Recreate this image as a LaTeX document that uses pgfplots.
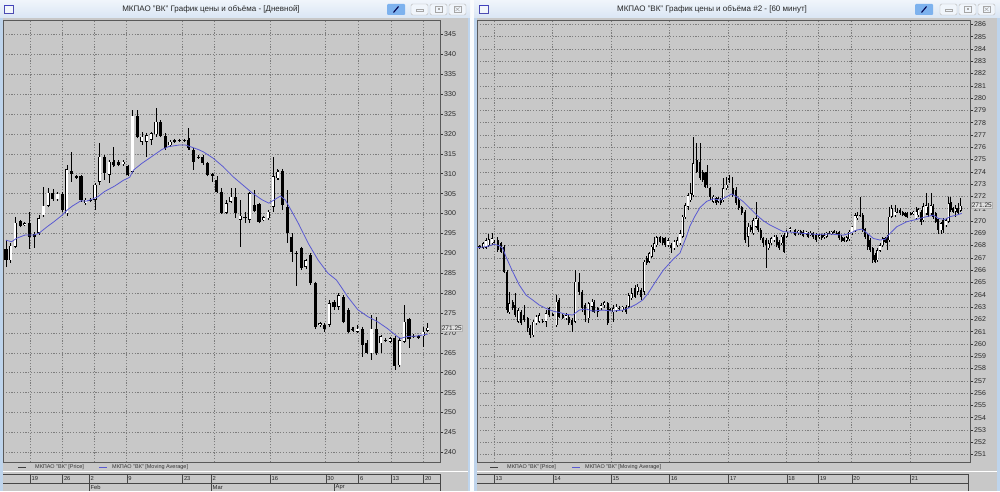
\documentclass[border=0pt]{standalone}
\usepackage{fontspec}
\setmainfont{Liberation Sans}
\usepackage{pgfplots}
\usepackage{pgfplotstable}
\pgfplotsset{compat=1.18}

\definecolor{panel}{RGB}{200,200,200}
\definecolor{gridc}{RGB}{125,125,125}
\definecolor{frameblue}{RGB}{190,212,236}
\definecolor{titletop}{RGB}{240,245,251}
\definecolor{titlebot}{RGB}{218,230,244}
\definecolor{maline}{RGB}{90,90,210}
\definecolor{btnblue}{RGB}{125,178,238}
\definecolor{ticktext}{RGB}{40,40,40}

\newcommand\titlef{\fontsize{8}{9.5}\selectfont}
\newcommand\tickf{\fontsize{7}{8}\selectfont}
\newcommand\legf{\fontsize{5.5}{6.5}\selectfont}
\newcommand\datef{\fontsize{5.8}{6.5}\selectfont}

\pgfplotsset{
  % vertical bar from y-err to y+err, one per row: colour, width, end mark, end mark size
  vbar/.style n args={4}{draw=none, mark=none,
    error bars/.cd, y dir=both, y explicit, error mark=#3,
    error mark options={draw=black, line width=0.5pt, mark size=#4, solid},
    error bar style={draw=#1, line width=#2, solid, line cap=butt}},
  chart/.style={
    anchor=south west,
    axis background/.style={fill=panel},
    axis line style={draw=gray!70!black, line width=0.5pt},
    xmajorgrids, ymajorgrids,
    major grid style={draw=gridc, line width=0.5pt, dash pattern=on 1.2pt off 1.6pt},
    xticklabels={}, xtick style={draw=none},
    ytick pos=right, yticklabel pos=right, tick align=outside,
    ytick style={draw=gray!40!black, line width=0.5pt},
    major tick length=3pt,
    yticklabel style={font=\tickf, text=ticktext, inner sep=1pt},
    /pgf/number format/assume math mode=true,
    clip mode=individual,
  },
}

% daily candles: index, open, high, low, close
\pgfplotstableread{
x o h l c
0 291.1 293.3 286.6 288.3
1 288.3 292.5 287.5 291.9
2 291.7 299.2 291.3 297.7
3 298.0 298.2 296.7 296.9
4 297.2 297.7 296.9 297.5
5 297.7 300.5 291.0 294.2
6 294.8 295.4 291.3 294.2
7 295.2 299.6 294.6 298.8
8 299.6 306.6 299.2 301.9
9 301.9 306.3 301.7 305.2
10 305.2 306.1 303.4 303.6
11 303.6 305.5 303.4 304.9
12 304.9 305.2 300.5 300.9
13 300.0 312.2 299.4 311.1
14 310.7 315.5 308.0 309.9
15 309.1 309.6 308.8 309.3
16 309.3 309.4 303.0 303.4
17 302.6 303.8 302.4 303.4
18 303.3 303.8 302.9 303.5
19 303.4 307.6 300.9 307.2
20 308.0 317.6 307.2 314.3
21 314.3 314.7 308.4 310.1
22 309.7 313.4 307.6 313.0
23 313.0 316.8 311.8 312.2
24 313.0 313.2 312.0 312.2
25 312.4 313.3 312.2 313.0
26 311.9 312.2 309.3 309.7
27 310.5 326.0 310.1 324.5
28 324.5 326.0 319.1 319.3
29 318.0 320.6 317.2 319.3
30 318.0 320.1 314.3 319.7
31 318.5 320.6 317.2 320.1
32 319.9 326.4 319.3 323.1
33 323.1 323.5 319.3 319.5
34 319.5 320.1 316.0 316.4
35 317.2 318.5 316.8 318.0
36 318.2 318.5 318.0 318.4
37 318.3 318.5 318.0 318.4
38 318.4 318.6 318.1 318.3
39 318.5 321.4 316.0 316.4
40 316.0 316.4 310.9 313.0
41 314.2 314.5 313.9 314.1
42 314.3 314.5 312.2 312.6
43 312.6 313.0 309.3 309.7
44 309.8 310.0 308.0 309.7
45 308.4 309.3 305.1 305.5
46 305.5 306.3 300.0 300.2
47 300.2 303.4 300.0 302.6
48 303.0 306.3 302.6 304.2
49 304.2 306.3 298.8 300.0
50 298.4 303.4 291.7 299.4
51 299.2 300.5 297.5 298.8
52 298.4 305.5 297.5 305.1
53 302.1 305.9 300.5 300.7
54 302.3 302.6 297.7 297.9
55 298.4 299.2 298.2 299.0
56 298.8 300.7 298.5 300.5
57 301.7 314.3 300.5 309.3
58 308.8 311.3 308.4 310.5
59 310.8 311.1 300.9 302.1
60 301.7 305.9 292.7 295.0
61 294.2 295.0 287.9 290.2
62 290.1 290.4 281.8 289.9
63 291.3 291.7 285.8 286.2
64 286.6 288.3 286.0 288.2
65 289.6 290.0 282.3 282.5
66 282.5 282.9 271.1 271.6
67 271.9 272.6 271.6 272.4
68 272.0 272.4 270.1 270.9
69 272.0 278.3 271.6 277.4
70 277.8 278.3 275.8 276.6
71 276.6 279.9 275.8 279.5
72 279.1 279.5 272.6 272.8
73 275.8 276.2 270.1 270.3
74 271.1 271.4 270.4 270.7
75 270.3 272.0 269.9 271.1
76 271.1 271.6 264.0 267.0
77 267.4 268.2 264.9 265.0
78 264.9 274.5 263.2 271.1
79 271.1 274.1 264.5 264.9
80 267.4 269.5 264.9 269.2
81 268.2 268.6 267.6 268.3
82 267.8 268.9 267.4 268.6
83 268.6 269.1 260.7 261.7
84 261.9 268.6 261.5 268.2
85 267.8 277.0 267.4 272.8
86 273.4 273.7 266.1 268.4
87 269.3 269.5 268.9 269.2
88 269.1 269.3 268.6 268.9
89 269.1 271.6 266.5 270.3
90 270.5 272.4 270.1 271.25
}\dayTab

\pgfplotstableread{
x ma
0 293.3
1.2 292.9
2.3 293.8
4.1 294.6
5.9 294.6
7.0 295.0
8.8 296.7
10.2 297.9
12.0 299.6
13.1 300.9
14.2 301.9
16.0 303.2
17.1 303.1
18.2 303.5
19.6 304.2
21.0 305.5
23.2 306.9
25.0 308.3
26.4 309.1
27.2 310.9
29.0 312.6
31.1 314.3
33.3 316.1
34.7 316.8
36.9 317.2
38.3 317.2
39.8 316.6
41.2 316.0
42.1 315.5
44.2 313.9
46.3 311.8
48.4 309.3
50.5 307.2
52.6 305.1
54.7 303.4
56.1 302.6
57.2 303.4
58.6 304.4
59.6 303.4
61.0 300.5
62.4 297.5
64.5 292.5
66.6 288.3
68.7 285.0
70.5 283.3
71.5 281.6
72.9 279.1
75.1 275.8
77.2 274.1
79.3 272.8
81.4 271.1
83.5 269.1
84.2 268.6
85.6 269.1
87.7 269.2
90.0 269.7
}\dayMA

% hourly candles: position, open, high, low, close
\pgfplotstableread{
x o h l c
2.5 267.85 268.05 267.75 267.95
6.3 267.83 268.31 267.72 268.18
9.0 267.83 268.64 267.72 268.45
11.7 267.99 268.91 267.91 268.53
15.0 268.18 268.99 268.04 268.59
17.3 268.33 268.45 268.20 268.29
20.7 268.45 268.72 267.50 267.64
24.0 268.18 268.31 267.36 267.50
27.3 267.91 268.04 265.74 265.87
30.0 265.87 266.01 262.48 262.75
32.3 262.56 264.25 262.48 263.30
35.7 263.43 263.57 262.75 262.89
38.3 263.16 264.11 262.21 262.35
41.3 261.80 262.89 261.67 262.75
44.0 262.62 262.75 261.53 261.67
47.3 262.35 263.16 261.80 261.94
50.7 262.08 262.21 260.99 261.26
53.0 261.26 261.53 260.45 260.72
56.3 260.72 261.94 260.58 261.80
59.0 261.67 262.35 261.53 262.21
62.3 261.80 262.48 261.67 262.35
65.7 261.85 262.00 261.70 261.80
69.0 261.80 262.75 261.40 262.48
72.3 262.89 263.03 262.21 262.35
75.7 262.40 262.50 262.25 262.35
79.7 261.53 263.97 261.40 263.43
82.3 263.57 263.70 262.08 262.21
85.7 262.35 262.45 262.00 262.08
89.0 262.08 262.48 261.94 262.35
91.7 262.21 262.35 261.53 261.67
95.0 261.94 262.08 260.99 261.53
98.3 261.80 266.01 261.67 265.06
102.3 265.06 265.74 263.97 264.25
105.0 264.25 264.38 262.62 262.89
108.3 263.16 263.30 261.80 262.35
111.7 262.08 263.43 261.67 263.30
115.0 263.03 263.65 262.62 263.43
117.3 263.43 263.57 262.48 262.62
120.7 262.89 263.03 262.21 262.62
124.0 262.89 263.30 262.75 263.16
127.3 263.16 263.49 262.94 263.38
130.7 263.30 263.43 261.59 261.67
133.3 262.80 262.90 262.65 262.75
136.3 262.56 263.16 261.80 262.89
139.0 262.75 263.21 262.56 263.03
142.3 262.95 263.05 262.80 262.89
145.7 262.75 263.10 262.60 263.03
149.0 263.03 263.16 262.40 262.56
151.7 263.03 264.11 262.89 263.97
154.7 263.70 264.52 263.57 264.11
158.0 264.52 264.79 263.70 263.84
160.7 264.25 264.84 263.97 264.66
164.0 264.38 264.52 263.57 263.84
167.3 264.25 266.82 263.97 266.69
169.7 266.96 267.15 266.42 266.55
172.3 266.69 267.50 266.55 267.36
174.7 267.09 268.04 266.96 267.91
177.3 267.64 268.72 267.50 268.18
179.7 268.04 268.77 267.91 268.67
183.0 268.67 268.77 268.18 268.31
185.7 268.59 268.72 268.04 268.18
188.3 268.59 268.67 267.91 268.04
191.0 268.04 268.59 267.91 268.45
194.3 268.04 268.18 267.36 267.77
197.0 267.77 268.45 267.64 268.31
200.3 268.04 268.72 267.91 268.45
203.0 268.18 269.26 268.04 268.99
205.7 268.72 270.48 268.59 270.35
208.3 270.29 271.43 270.21 271.30
211.0 271.16 272.30 270.89 272.11
213.7 271.70 273.06 271.57 272.25
216.3 272.11 276.86 271.97 274.69
219.7 274.96 276.32 273.88 274.01
223.0 274.82 276.32 273.33 273.47
225.7 274.01 274.15 273.20 273.33
228.0 273.88 274.01 272.65 272.79
230.3 274.01 274.55 272.65 272.93
233.0 272.65 272.79 271.70 271.97
236.3 271.57 272.11 271.43 271.97
239.0 271.84 271.97 271.30 271.43
241.3 271.57 271.97 271.43 271.84
243.7 271.70 271.84 271.30 271.43
246.3 271.70 273.47 271.57 272.65
249.7 272.65 273.60 272.52 272.93
252.3 273.40 273.74 273.06 273.47
255.7 272.65 273.60 271.97 272.11
259.0 272.52 272.79 271.30 271.43
261.7 271.70 271.84 270.89 271.03
264.7 271.11 271.22 270.48 270.62
268.0 270.75 270.89 268.18 268.45
271.3 268.72 269.81 267.91 269.53
273.7 269.53 269.67 269.13 269.26
276.3 268.99 270.21 268.86 270.08
279.0 269.53 271.57 269.40 270.21
281.3 270.08 270.21 269.13 269.26
283.7 269.26 269.40 268.45 268.59
286.3 268.59 268.72 267.91 268.18
289.0 268.45 268.59 266.14 268.04
291.7 267.77 268.45 267.64 268.18
294.3 268.18 268.72 268.04 268.59
297.0 268.45 268.86 268.31 268.72
299.7 268.72 268.86 267.91 268.04
302.3 268.31 268.45 267.64 267.77
304.7 268.18 268.86 268.04 268.72
307.3 268.86 268.99 267.36 267.50
309.7 268.72 269.26 268.59 269.13
313.0 269.26 269.45 269.13 269.40
318.0 269.26 269.35 268.80 268.86
321.3 268.99 269.30 268.90 269.21
323.7 269.21 269.30 268.85 268.94
326.3 269.13 269.26 268.66 268.77
329.0 268.94 269.20 268.85 269.13
331.3 268.99 269.10 268.65 268.72
333.7 268.85 269.15 268.80 269.04
336.3 268.99 269.13 268.58 268.66
339.0 268.85 268.99 268.31 268.45
342.3 268.66 268.95 268.60 268.85
344.7 268.85 268.95 268.50 268.58
347.3 268.66 268.99 268.50 268.85
349.7 268.72 269.10 268.65 269.04
352.3 269.04 269.15 268.95 269.06
354.7 268.99 269.20 268.95 269.13
357.3 269.13 269.25 269.05 269.15
359.7 269.06 269.15 268.95 269.04
362.3 269.13 269.21 268.45 268.58
364.7 268.66 268.85 268.31 268.39
367.3 268.58 268.65 268.30 268.39
369.7 268.39 268.70 268.35 268.66
372.3 268.50 269.26 268.39 269.13
375.0 268.99 269.60 268.90 269.53
378.0 269.26 270.62 269.13 270.48
380.3 270.21 270.75 270.08 270.48
383.0 270.50 271.97 270.35 270.45
385.7 270.48 270.62 269.13 269.26
388.0 269.32 269.40 268.60 268.66
390.7 268.85 268.99 267.63 267.91
393.0 268.45 268.58 267.50 267.63
395.7 267.77 267.91 266.60 266.82
398.0 267.23 267.36 266.60 266.69
400.3 266.82 267.77 266.69 267.63
403.0 267.58 268.18 267.50 268.04
405.7 268.04 268.72 267.91 268.58
408.0 268.58 268.72 268.18 268.31
410.3 268.58 268.85 267.63 268.18
412.3 268.45 271.16 268.31 270.35
414.7 270.35 271.30 270.21 271.02
418.0 270.48 271.30 270.35 270.75
420.3 270.77 271.02 270.62 270.75
423.0 270.89 271.02 270.48 270.62
425.7 270.75 270.85 270.40 270.48
428.0 270.62 270.70 270.35 270.40
430.3 270.62 270.75 270.21 270.35
433.7 270.60 270.70 270.50 270.62
436.3 270.62 270.80 270.55 270.75
439.0 270.21 271.16 270.08 270.75
441.3 270.48 271.02 270.35 270.94
444.0 270.75 270.89 269.67 269.94
446.3 270.08 271.43 269.94 271.21
449.0 270.62 272.30 270.48 271.30
451.3 271.16 271.43 270.35 270.48
454.0 270.62 272.25 270.48 271.30
456.3 271.21 271.38 270.20 270.35
458.7 270.62 270.75 269.80 269.94
461.3 270.13 270.21 268.94 269.26
464.0 269.26 269.94 268.94 269.80
466.3 270.08 270.21 268.99 269.26
469.0 269.67 270.21 269.53 270.08
471.7 269.94 271.97 269.80 271.43
473.7 271.57 271.97 270.75 270.89
476.3 271.02 271.10 270.70 270.75
478.7 270.75 271.30 270.35 271.02
481.3 271.02 271.43 270.48 270.62
483.7 270.83 271.84 270.75 271.25
}\hourTab

\pgfplotstableread{
x ma
0 267.83
9 267.91
17.3 268.10
22.3 267.99
25.7 267.77
29 267.09
35.7 265.87
42.3 264.79
49 263.97
55.7 263.57
62.3 263.16
69 262.89
75.7 262.67
82.3 262.56
89 262.40
95.7 262.35
102.3 262.75
109 262.84
115.7 262.67
125.7 262.75
135.7 262.67
145.7 262.75
152.3 262.94
159 263.21
165.7 263.57
171 264.10
178 265.00
186.3 266.00
196.3 266.90
203 267.40
209.7 268.80
213 269.60
218 270.40
223 271.10
229.7 271.60
236.3 271.80
243 271.70
249.7 271.97
254.7 272.20
259.7 271.97
266.3 271.57
273 271.03
279.7 270.48
286.3 270.02
293 269.67
299.7 269.40
306.3 269.13
313 269.10
326.3 268.99
339.7 268.91
353 268.94
366.3 268.85
373 269.00
379.7 269.26
384.7 269.34
389.7 269.04
396.3 268.58
403 268.45
408 268.50
413 268.99
419.7 269.53
429.7 269.94
439.7 270.13
446.3 270.29
456.3 270.48
461.3 270.21
468 270.13
473 270.35
479.7 270.48
484.7 270.62
}\hourMA

\begin{document}
\begin{tikzpicture}[x=1pt,y=1pt]
% window frames and panels
\fill[frameblue] (0,0) rectangle (1000,491);
\fill[white!92!frameblue] (470,0) rectangle (474,491);
\fill[panel] (3,0) rectangle (468,473);
\fill[panel] (477,0) rectangle (997,473);

% title bars
\shade[top color=titletop, bottom color=titlebot] (0,473) rectangle (470,491);
\shade[top color=titletop, bottom color=titlebot] (474,473) rectangle (1000,491);
\node[font=\titlef, text=black!85] at (211,482) {МКПАО "ВК" График цены и объёма - [Дневной]};
\node[font=\titlef, text=black!85] at (712,482) {МКПАО "ВК" График цены и объёма \#2 - [60 минут]};
\foreach \ix in {4,479}{
  \draw[blue!40!gray, fill=white!80!frameblue, line width=0.4pt] (\ix,478) rectangle (\ix+9,486);
  \fill[blue!50!gray] (\ix,484.5) rectangle (\ix+9,486);
}
\foreach \bx/\ax/\cx/\dx in {387/411/430/449, 915/940/959/978}{
  \fill[btnblue, rounded corners=1pt] (\bx,476) rectangle (\bx+18,487);
  \draw[blue!30!black, line width=1.1pt] (\bx+6.5,478.5) -- (\bx+11.5,484.5);
  \draw[gray!55, fill=titletop, rounded corners=1.5pt, line width=0.4pt] (\ax,476) rectangle (\ax+17,487);
  \draw[gray!55, fill=titletop, rounded corners=1.5pt, line width=0.4pt] (\cx,476) rectangle (\cx+17,487);
  \draw[gray!55, fill=titletop, rounded corners=1.5pt, line width=0.4pt] (\dx,476) rectangle (\dx+17,487);
  \draw[gray!70, line width=0.5pt] (\ax+5,479.5) rectangle (\ax+12,482);
  \draw[gray!70, line width=0.5pt] (\cx+5,478.5) rectangle (\cx+12,485);
  \fill[gray!70] (\cx+7.5,480.5) rectangle (\cx+9.5,483);
  \draw[gray!70, line width=0.5pt] (\dx+5,478.5) rectangle (\dx+12,485);
  \draw[gray!70, line width=0.5pt] (\dx+6.5,480) -- (\dx+10.5,483.5) (\dx+6.5,483.5) -- (\dx+10.5,480);
}

% daily chart
\begin{axis}[chart, at={(3pt,29pt)}, x=4.686pt, y=3.98pt,
  xmin=-0.64, xmax=92.62, ymin=237.56, ymax=348.62,
  xtick={5.12,12.01,18.84,25.76,37.62,44.45,56.34,68.22,75.18,82.16,89.05},
  ytick={240,245,...,345}]
% wicks
\addplot[vbar={black}{0.6pt}{none}{1pt}] table[x=x,
  y expr={(\thisrow{h}+\thisrow{l})/2}, y error expr={(\thisrow{h}-\thisrow{l})/2}] {\dayTab};
% bodies (black, with end caps)
\addplot[vbar={black}{3.1pt}{-}{1.55pt}]
  table[x=x, y expr={(\thisrow{o}+\thisrow{c})/2}, y error expr={abs(\thisrow{o}-\thisrow{c})/2}] {\dayTab};
% hollow inside of rising candles
\addplot[vbar={white}{2.1pt}{none}{1pt}] table[x=x, y expr={(\thisrow{o}+\thisrow{c})/2},
  y error expr={max((\thisrow{c}-\thisrow{o})/2-0.126,0)}] {\dayTab};
\addplot[maline, line width=0.8pt] table[x=x,y=ma] {\dayMA};
\coordinate (pL) at (axis cs:92.62,271.25);
\end{axis}

% hourly chart
\begin{axis}[chart, at={(477pt,29pt)}, x=1pt, y=12.29pt,
  xmin=0, xmax=493, ymin=250.39, ymax=286.35,
  xtick={17,75.7,134,192.3,251.3,309.7,341.3,374.7,433},
  ytick={251,252,...,286}]
\addplot[vbar={black}{0.6pt}{none}{1pt}] table[x=x,
  y expr={(\thisrow{h}+\thisrow{l})/2}, y error expr={(\thisrow{h}-\thisrow{l})/2}] {\hourTab};
\addplot[vbar={black}{2.3pt}{-}{1.15pt}]
  table[x=x, y expr={(\thisrow{o}+\thisrow{c})/2}, y error expr={abs(\thisrow{o}-\thisrow{c})/2}] {\hourTab};
\addplot[vbar={white}{1.3pt}{none}{1pt}] table[x=x, y expr={(\thisrow{o}+\thisrow{c})/2},
  y error expr={max((\thisrow{c}-\thisrow{o})/2-0.041,0)}] {\hourTab};
\addplot[maline, line width=0.8pt] table[x=x,y=ma] {\hourMA};
\coordinate (pR) at (axis cs:493,271.25);
\end{axis}

% last price tags
\foreach \p in {pL,pR}{
  \node[anchor=west, xshift=1pt, draw=gray!60, fill=panel!60!white, line width=0.3pt,
        inner sep=0.7pt, font=\fontsize{6.5}{7}\selectfont, text=ticktext] at (\p) {271.25};
}

% legend rows
\draw[white, line width=1pt] (3,19.5) -- (468,19.5);
\draw[white, line width=1pt] (477,19.5) -- (997,19.5);
\draw[black!75, line width=0.7pt] (18,24) -- (26,24);
\node[anchor=west, font=\legf, text=black!80, inner sep=0pt] at (35,24) {МКПАО "ВК" [Price]};
\draw[maline, line width=0.7pt] (99,24) -- (107,24);
\node[anchor=west, font=\legf, text=black!80, inner sep=0pt] at (112,24) {МКПАО "ВК" [Moving Average]};
\draw[black!75, line width=0.7pt] (490,24) -- (498,24);
\node[anchor=west, font=\legf, text=black!80, inner sep=0pt] at (507,24) {МКПАО "ВК" [Price]};
\draw[maline, line width=0.7pt] (572,24) -- (580,24);
\node[anchor=west, font=\legf, text=black!80, inner sep=0pt] at (585,24) {МКПАО "ВК" [Moving Average]};

% date strips
\begin{scope}[gray!55!black, line width=0.4pt]
\draw (3,17) -- (440,17) (3,8.3) -- (440,8.3) (440,0) -- (440,17);
\draw (477,17) -- (968,17) (477,8.3) -- (968,8.3) (968,0) -- (968,17);
\foreach \sx/\lab in {30/19,62.3/26,89/2,126.7/9,182.3/23,211/2,270/16,325.7/30,358.3/6,391/13,423.3/20}{
  \draw (\sx,8.3) -- (\sx,17);
  \node[anchor=west, font=\datef, text=black!85, inner sep=0pt] at (\sx+1.5,12.6) {\lab};
}
\foreach \sx/\lab in {89/Feb,211/Mar,334/Apr}{
  \draw (\sx,0) -- (\sx,8.3);
  \node[anchor=west, font=\datef, text=black!85, inner sep=0pt] at (\sx+1.5,3.8) {\lab};
}
\foreach \sx/\lab in {494/13,552.7/14,611/15,669.3/16,728.3/17,786.7/18,818.3/19,851.7/20,910/21}{
  \draw (\sx,8.3) -- (\sx,17);
  \node[anchor=west, font=\datef, text=black!85, inner sep=0pt] at (\sx+1.5,12.6) {\lab};
}
\end{scope}

\pgfresetboundingbox
\path[use as bounding box] (0,0) rectangle (1000,491);
\end{tikzpicture}
\end{document}
